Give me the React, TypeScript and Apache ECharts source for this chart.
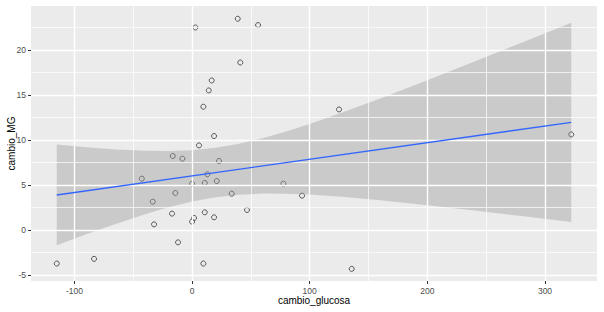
import React, { useEffect, useRef } from "react";
import * as echarts from "echarts";

const cambioGlucosa = [
  38.8, 56.1, 2.8, 41.0, 16.7, 14.2, 9.6, 18.7, 5.9, -16.4, -8.2, 22.9, 13.0,
  -42.7, 0, 10.8, 21, -14.2, 33.7, -33.4, 46.7, -17, 10.8, 18.7, 1.7, 0,
  -32.3, -11.9, 9.6, -115, -83.3, 124.9, 77.6, 93.5, 135.7, 322.3,
];
const cambioMG = [
  23.48, 22.78, 22.51, 18.62, 16.62, 15.51, 13.7, 10.44, 9.4, 8.22, 7.92, 7.67,
  6.18, 5.7, 5.14, 5.22, 5.44, 4.11, 4.03, 3.14, 2.22, 1.81, 1.96, 1.4, 1.33,
  0.92, 0.62, -1.38, -3.74, -3.74, -3.22, 13.4, 5.14, 3.81, -4.33, 10.62,
];

// Fitted line and confidence band
const fitX = [-115, 322.3];
const fitY = [3.89, 11.96];
const bandX = [-115, -90, -65, -40, -20, 0, 20, 40, 60, 80, 100, 130, 160, 200, 240, 280, 322.3];
const bandUpper = [9.49, 9.19, 8.95, 8.79, 8.77, 8.87, 9.14, 9.59, 10.2, 10.95, 11.79, 13.17, 14.62, 16.65, 18.72, 20.82, 23.05];
const bandLower = [-1.71, -0.49, 0.67, 1.75, 2.51, 3.15, 3.62, 3.91, 4.04, 4.03, 3.93, 3.65, 3.3, 2.75, 2.16, 1.54, 0.87];

// Axis ticks
const xTicks = [-100, 0, 100, 200, 300];
const xMinor = [-50, 50, 150, 250];
const yTicks = [-5, 0, 5, 10, 15, 20];
const yMinor = [-2.5, 2.5, 7.5, 12.5, 17.5, 22.5];

const X_MIN = -136.9;
const X_MAX = 344.2;
const Y_MIN = -5.68;
const Y_MAX = 24.9;

const FONT = "'Liberation Sans', Arial, sans-serif";

export default function App() {
  const ref = useRef<HTMLDivElement>(null);
  useEffect(() => {
    document.body.style.margin = "0";
    const chart = echarts.init(ref.current!, null, { renderer: "svg" });
    const minorLines = [
      ...xMinor.map((v) => ({ xAxis: v })),
      ...yMinor.map((v) => ({ yAxis: v })),
    ];
    const majorLines = [
      ...xTicks.map((v) => ({ xAxis: v })),
      ...yTicks.map((v) => ({ yAxis: v })),
    ];
    const axisCommon = {
      type: "value",
      nameLocation: "middle",
      nameMoveOverlap: false,
      nameTextStyle: { fontSize: 10, color: "#000", fontFamily: FONT },
      axisLine: { show: false, onZero: false },
      splitLine: { show: false },
    };
    const extentData = [
      [X_MIN, Y_MIN],
      [X_MAX, Y_MAX],
    ];
    chart.setOption({
      animation: false,
      backgroundColor: "#ffffff",
      textStyle: { fontFamily: FONT },
      grid: {
        left: 31,
        right: 7,
        top: 6,
        bottom: 31,
        outerBoundsMode: "none",
        containLabel: false,
        show: false,
      },
      xAxis: {
        ...axisCommon,
        min: X_MIN,
        max: X_MAX,
        name: "cambio_glucosa",
        nameGap: 14,
        axisTick: { show: true, length: 3, customValues: xTicks, lineStyle: { color: "#333", width: 1 } },
        axisLabel: { customValues: xTicks, fontSize: 8.5, color: "#4D4D4D", margin: 5, fontFamily: FONT },
      },
      yAxis: {
        ...axisCommon,
        min: Y_MIN,
        max: Y_MAX,
        name: "cambio_MG",
        nameRotate: 90,
        nameGap: 15,
        axisTick: { show: true, length: 3, customValues: yTicks, lineStyle: { color: "#333", width: 1 } },
        axisLabel: { customValues: yTicks, fontSize: 8.5, color: "#4D4D4D", margin: 5, fontFamily: FONT },
      },
      series: [
        {
          type: "line",
          z: 1,
          silent: true,
          symbol: "none",
          lineStyle: { opacity: 0 },
          data: extentData,
          markArea: {
            silent: true,
            itemStyle: { color: "#EBEBEB" },
            data: [[{ xAxis: X_MIN, yAxis: Y_MIN }, { xAxis: X_MAX, yAxis: Y_MAX }]],
          },
        },
        {
          type: "line",
          z: 2,
          silent: true,
          symbol: "none",
          lineStyle: { opacity: 0 },
          data: extentData,
          markLine: {
            silent: true,
            symbol: "none",
            label: { show: false },
            lineStyle: { color: "#ffffff", width: 0.7, type: "solid" },
            data: minorLines,
          },
        },
        {
          type: "line",
          z: 2,
          silent: true,
          symbol: "none",
          lineStyle: { opacity: 0 },
          data: extentData,
          markLine: {
            silent: true,
            symbol: "none",
            label: { show: false },
            lineStyle: { color: "#ffffff", width: 1.4, type: "solid" },
            data: majorLines,
          },
        },
        {
          type: "scatter",
          z: 3,
          symbol: "circle",
          symbolSize: 5,
          itemStyle: { color: "rgba(0,0,0,0)", borderColor: "#333", borderWidth: 1 },
          data: cambioGlucosa.map((x, i) => [x, cambioMG[i]]),
        },
        {
          type: "custom",
          z: 4,
          silent: true,
          data: [[0, 0]],
          renderItem: (_params: any, api: any) => {
            const pts: number[][] = [];
            bandX.forEach((x, i) => pts.push(api.coord([x, bandUpper[i]])));
            for (let i = bandX.length - 1; i >= 0; i--) pts.push(api.coord([bandX[i], bandLower[i]]));
            return {
              type: "polygon",
              shape: { points: pts },
              style: { fill: "rgba(153,153,153,0.4)", stroke: "none" },
            };
          },
        },
        {
          type: "line",
          z: 5,
          symbol: "none",
          silent: true,
          lineStyle: { color: "#3366FF", width: 1.4 },
          data: fitX.map((x, i) => [x, fitY[i]]),
        },
      ],
    });
    return () => chart.dispose();
  }, []);
  return <div ref={ref} style={{ width: 604, height: 312 }} />;
}
